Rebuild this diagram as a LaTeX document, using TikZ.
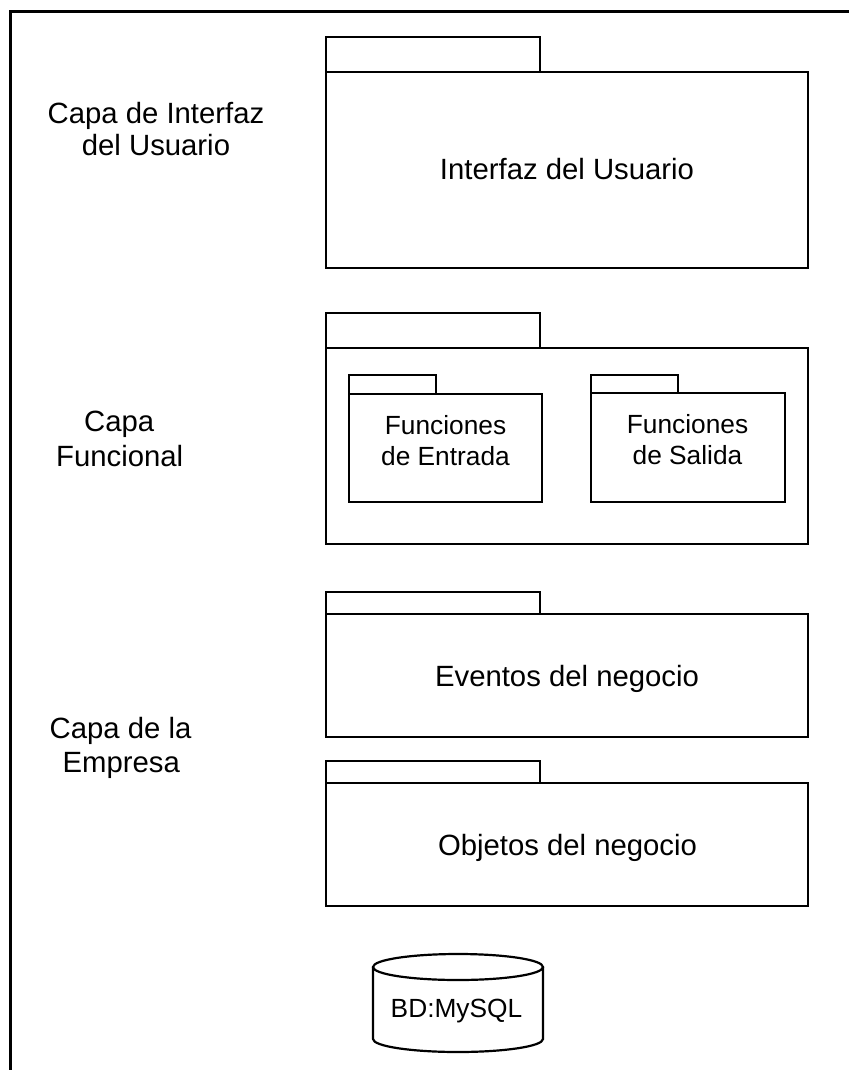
\documentclass[tikz,border=0pt]{standalone}
\usepackage{fontspec}
\setmainfont{Liberation Sans}
\tikzset{
  pk/.style={draw=black,line width=2.4pt,fill=white,outer sep=0pt},
  lbl/.style={font=\fontsize{29.3}{32}\selectfont,align=center,inner sep=0pt,anchor=base},
  llbl/.style={font=\fontsize{29.3}{32}\selectfont,align=left,inner sep=0pt,anchor=base west},
  slbl/.style={font=\fontsize{26.3}{31}\selectfont,align=center,inner sep=0pt,anchor=base}
}
\newcommand{\pkg}[7]{% name x1 ytop xtab ytabbottom x2 y2
  \draw[pk] (#2pt,-#5pt) -- (#2pt,-#3pt) -- (#4pt,-#3pt) -- (#4pt,-#5pt);
  \node[pk,inner sep=0pt,anchor=north west,minimum width=#6pt-#2pt,minimum height=#7pt-#5pt] (#1) at (#2pt,-#5pt) {};
}
\begin{document}
\begin{tikzpicture}[x=1pt,y=1pt]
\useasboundingbox (0,0) rectangle (849pt,-1070pt);
\coordinate (fa) at (10.5pt,-1070pt);
\coordinate (fb) at (10.5pt,-11.5pt);
\coordinate (fc) at (849pt,-11.5pt);
\draw[line width=3pt] (fa) -- (fb) -- (fc);
\pkg{ui}{326}{37}{540}{72}{808}{268}
\pkg{fu}{326}{313}{540}{348}{808}{544}
\pkg{fe}{349}{375}{436}{394}{542}{502}
\pkg{fs}{591}{375}{678}{393}{785}{502}
\pkg{ev}{326}{592}{540}{614}{808}{737}
\pkg{ob}{326}{761}{540}{783}{808}{906}
\node[lbl] (t1) at (567,-179) {Interfaz del Usuario};
\node[slbl] (t2) at (445.5,-465) {Funciones\\de Entrada};
\node[slbl] (t3) at (687.5,-464) {Funciones\\de Salida};
\node[lbl] (t4) at (567,-686) {Eventos del negocio};
\node[lbl] (t5) at (567.5,-855) {Objetos del negocio};
\node[lbl] (c1) at (156,-155) {Capa de Interfaz\\del Usuario};
\node[llbl] (c2) at (56,-466) {\hspace*{28pt}Capa\\[3pt]Funcional};
\node[llbl] (c3) at (49.5,-772) {Capa de la\\[2pt]\hspace*{13pt}Empresa};
\draw[line width=2.2pt,fill=white] (373,-967) -- (373,-1039) arc[start angle=180,end angle=360,x radius=85,y radius=13] -- (543,-967);
\draw[line width=2.2pt,fill=white] (458,-967) ellipse[x radius=85,y radius=13];
\node[slbl] (db) at (456.5,-1017) {BD:MySQL};
\end{tikzpicture}
\end{document}
